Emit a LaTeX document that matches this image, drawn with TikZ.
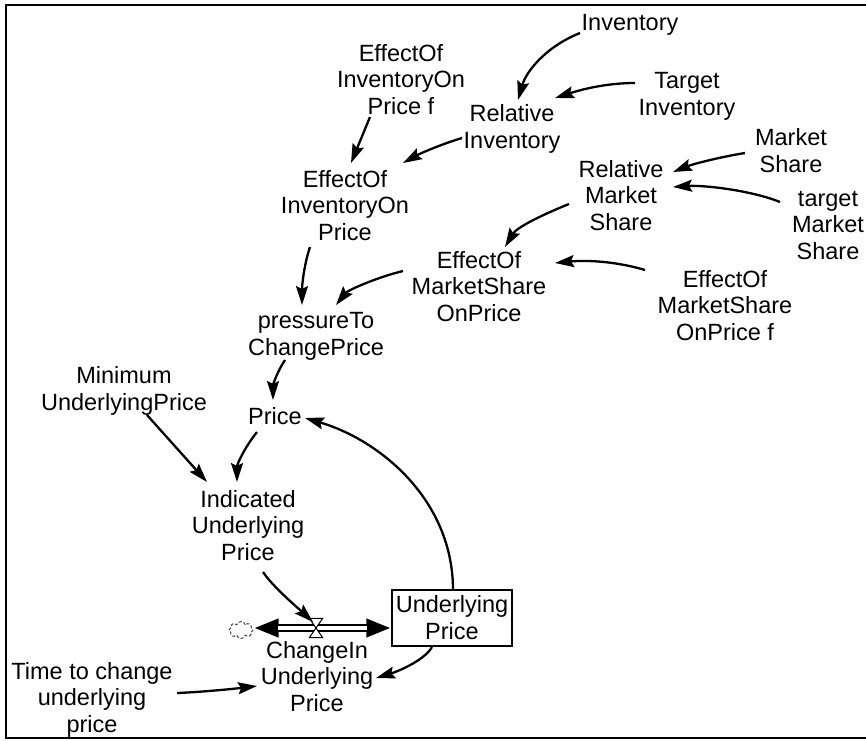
\documentclass[tikz,border=0pt]{standalone}
\usepackage{fontspec}
\setmainfont{Liberation Sans}
\usetikzlibrary{arrows.meta,shapes.symbols}
\newcommand{\ls}{\rule[-5.5pt]{0pt}{26.5pt}}
\newcommand{\lblfont}{\fontsize{23.5pt}{26.5pt}\selectfont\setlength{\lineskiplimit}{-20pt}}
\begin{document}
\begin{tikzpicture}[x=1pt,y=-1pt,
  lbl/.style={inner sep=0pt, align=center, font=\lblfont},
  stockbox/.style={lbl, draw, line width=1.3pt, minimum width=120pt, minimum height=56pt},
  link/.style={line width=2.3pt, -{Stealth[length=19pt,width=12pt,inset=3pt]}},
  pipe/.style={line width=8pt, {Triangle[length=25pt,width=17pt]}-{Triangle[length=25pt,width=17pt]}}]
\useasboundingbox (0,0) rectangle (866,740);
% frame
\draw[line width=2pt] (880,5) -- (6,5) -- (6,738) -- (880,738);
% nodes
\node[lbl] (inv) at (630,23) {\ls Inventory};
\node[lbl] (effinvpf) at (401,80) {\ls EffectOf\\\ls InventoryOn\\\ls Price f};
\node[lbl] (relinv) at (512,127) {\ls Relative\\\ls Inventory};
\node[lbl] (targetinv) at (687,94) {\ls Target\\\ls Inventory};
\node[lbl] (ms) at (791,151) {\ls Market\\\ls Share};
\node[lbl] (rms) at (621,196) {\ls Relative\\\ls Market\\\ls Share};
\node[lbl] (tms) at (828,225) {\ls target\\\ls Market\\\ls Share};
\node[lbl] (effinvp) at (345,206) {\ls EffectOf\\\ls InventoryOn\\\ls Price};
\node[lbl] (effmsp) at (479,287) {\ls EffectOf\\\ls MarketShare\\\ls OnPrice};
\node[lbl] (effmspf) at (725,306) {\ls EffectOf\\\ls MarketShare\\\ls OnPrice f};
\node[lbl] (pressure) at (316,334) {\ls pressureTo\\\ls ChangePrice};
\node[lbl] (minimum) at (124,389) {\ls Minimum\\\ls UnderlyingPrice};
\node[lbl] (price) at (275,417) {\ls Price};
\node[lbl] (indicated) at (248,526) {\ls Indicated\\\ls Underlying\\\ls Price};
\node[stockbox] (box) at (452,618) {\ls Underlying\\\ls Price};
\node[lbl] (changein) at (317,677) {\ls ChangeIn\\\ls Underlying\\\ls Price};
\node[lbl] (time) at (92,698) {\ls Time to change\\\ls underlying\\\ls price};
\node[inner sep=0pt, minimum width=13pt, minimum height=19pt] (valve) at (316,628) {};
\node[cloud, cloud puffs=8, draw=black!75, dash pattern=on 3pt off 2pt, line width=1pt,
      minimum width=24pt, minimum height=17pt, inner sep=0pt] (cloud) at (241,630) {};
% pipe
\draw[pipe] (cloud.east |- valve) -- (box.west |- valve);
\draw[white, line width=3.6pt, shorten <=24pt, shorten >=24pt] (cloud.east |- valve) -- (box.west |- valve);
\draw[line width=1pt, fill=white] (valve.north west) -- (valve.north east) -- (valve.south west) -- (valve.south east) -- cycle;
% links
\draw[link] ([shift={(-50,10)}]inv.center) .. controls +(-35,14) and +(8,-28) .. ([shift={(6,-27)}]relinv.center);
\draw[link] ([shift={(-52,-11)}]targetinv.center) .. controls +(-30,0) and +(25,-8) .. ([shift={(43,-29)}]relinv.center);
\draw[link] ([shift={(-31,37)}]effinvpf.center) -- ([shift={(6,-43)}]effinvp.center);
\draw[link] ([shift={(-50,11)}]relinv.center) .. controls +(-20,6) and +(18,-10) .. ([shift={(58,-43)}]effinvp.center);
\draw[link] ([shift={(-46,2)}]ms.center) .. controls +(-25,4) and +(20,-8) .. ([shift={(52,-24)}]rms.center);
\draw[link] ([shift={(-48,-23)}]tms.center) .. controls +(-30,-12) and +(30,-2) .. ([shift={(52,-9)}]rms.center);
\draw[link] ([shift={(-52,8)}]rms.center) .. controls +(-25,10) and +(12,-20) .. ([shift={(26,-40)}]effmsp.center);
\draw[link] ([shift={(-80,-36)}]effmspf.center) .. controls +(-30,-9) and +(30,-3) .. ([shift={(76,-24)}]effmsp.center);
\draw[link] ([shift={(-35,41)}]effinvp.center) .. controls +(-6,18) and +(0,-20) .. ([shift={(-14,-29)}]pressure.center);
\draw[link] ([shift={(-76,-16)}]effmsp.center) .. controls +(-25,6) and +(12,-15) .. ([shift={(20,-29)}]pressure.center);
\draw[link] ([shift={(-31,26)}]pressure.center) .. controls +(-8,12) and +(0,-15) .. ([shift={(-2,-17)}]price.center);
\draw[link] ([shift={(23,26)}]minimum.center) -- ([shift={(-41,-44)}]indicated.center);
\draw[link] ([shift={(-18,15)}]price.center) .. controls +(-12,15) and +(0,-18) .. ([shift={(-11,-44)}]indicated.center);
\draw[link] ([shift={(1,-28)}]box.center) .. controls +(0,-90) and +(75,22) .. ([shift={(30,1)}]price.center);
\draw[link] ([shift={(15,46)}]indicated.center) .. controls +(10,15) and +(-15,-14) .. ([shift={(-3,-6)}]valve.center);
\draw[link] ([shift={(-20,29)}]box.center) .. controls +(-8,14) and +(20,-6) .. ([shift={(59,1)}]changein.center);
\draw[link] ([shift={(85,-5)}]time.center) .. controls +(25,-1) and +(-25,3) .. ([shift={(-60,9)}]changein.center);
\end{tikzpicture}
\end{document}
